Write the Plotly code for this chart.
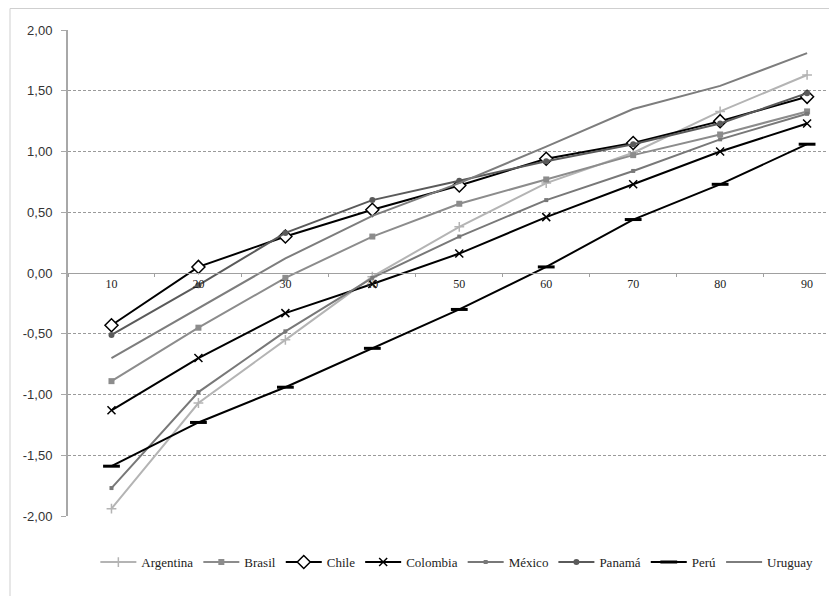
import plotly.graph_objects as go

categories = ["10", "20", "30", "40", "50", "60", "70", "80", "90"]

argentina = [-1.94, -1.07, -0.55, -0.03, 0.38, 0.74, 0.99, 1.33, 1.63]
brasil    = [-0.89, -0.45, -0.04, 0.30, 0.57, 0.77, 0.97, 1.14, 1.33]
chile     = [-0.43, 0.05, 0.30, 0.52, 0.72, 0.94, 1.07, 1.25, 1.45]
colombia  = [-1.13, -0.70, -0.33, -0.09, 0.16, 0.46, 0.73, 1.00, 1.23]
mexico    = [-1.77, -0.98, -0.48, -0.04, 0.30, 0.60, 0.84, 1.10, 1.31]
panama    = [-0.51, -0.10, 0.33, 0.60, 0.76, 0.92, 1.06, 1.23, 1.48]
peru      = [-1.59, -1.23, -0.94, -0.62, -0.30, 0.05, 0.44, 0.73, 1.06]
uruguay   = [-0.70, -0.29, 0.12, 0.47, 0.74, 1.04, 1.35, 1.54, 1.81]

y_ticks = [-2.0, -1.5, -1.0, -0.5, 0.0, 0.5, 1.0, 1.5, 2.0]
y_tick_labels = ["-2,00", "-1,50", "-1,00", "-0,50", "0,00", "0,50", "1,00", "1,50", "2,00"]

series = [
    ("Argentina", argentina, "#b4b4b4", dict(symbol="cross-thin-open", size=7, line=dict(width=1.5, color="#b4b4b4")), 2),
    ("Brasil", brasil, "#8c8c8c", dict(symbol="square", size=6, color="#8c8c8c"), 2),
    ("Chile", chile, "#000000", dict(symbol="diamond", size=10, color="white", line=dict(width=1.5, color="#000000")), 2),
    ("Colombia", colombia, "#000000", dict(symbol="x-thin-open", size=8, line=dict(width=1.5, color="#000000")), 2),
    ("México", mexico, "#787878", dict(symbol="square", size=4, color="#787878"), 2),
    ("Panamá", panama, "#5a5a5a", dict(symbol="circle", size=6, color="#5a5a5a"), 2),
    ("Perú", peru, "#000000", dict(symbol="line-ew-open", size=12, line=dict(width=3, color="#000000")), 2),
    ("Uruguay", uruguay, "#7d7d7d", None, 2),
]

fig = go.Figure()
for name, vals, color, marker, w in series:
    if marker is None:
        fig.add_trace(go.Scatter(x=categories, y=vals, name=name, mode="lines",
                                 line=dict(color=color, width=w)))
    else:
        fig.add_trace(go.Scatter(x=categories, y=vals, name=name, mode="lines+markers",
                                 line=dict(color=color, width=w), marker=marker))

# page is offset by the default 8px body margin; figure coords below account for that
W, H = 829, 588
L, R, T, B = 60, 11, 22, 80
pw = W - L - R
ph = H - T - B

fig.update_layout(
    width=W, height=H,
    margin=dict(l=L, r=R, t=T, b=B),
    paper_bgcolor="white", plot_bgcolor="white",
    showlegend=True,
    legend=dict(orientation="h", x=0.513, xanchor="center", y=-0.064, yanchor="top",
                font=dict(family="Liberation Serif", size=13, color="#222"),
                itemwidth=36, tracegroupgap=0, bgcolor="rgba(0,0,0,0)"),
    xaxis=dict(type="category", range=[-0.5, pw / 86.95 - 0.5],
               anchor="free", position=0.5, showline=True, linecolor="#a0a0a0", linewidth=1,
               ticks="outside", ticklen=3, tickcolor="#a0a0a0", tickson="boundaries",
               ticklabelstandoff=0,
               showgrid=False, zeroline=False,
               tickfont=dict(family="Liberation Serif", size=12, color="#222")),
    yaxis=dict(range=[-2, 2], tickvals=y_ticks, ticktext=y_tick_labels,
               showline=True, linecolor="#a8a8a8", linewidth=2,
               ticks="outside", ticklen=5, tickcolor="#a8a8a8",
               ticklabelstandoff=6,
               showgrid=True, gridcolor="#9a9a9a", griddash="3px,2px", gridwidth=1,
               zeroline=False,
               tickfont=dict(family="Liberation Sans", size=13, color="#333")),
)

# outer chart frame (light gray), top and left edges visible
x_left = (2 - L) / pw
y_top = 1 + (T - 0.5) / ph
fig.add_shape(type="line", xref="paper", yref="paper", x0=x_left, x1=1.2, y0=y_top, y1=y_top,
              line=dict(color="#cfcfcf", width=1))
fig.add_shape(type="line", xref="paper", yref="paper", x0=x_left, x1=x_left, y0=y_top, y1=-0.3,
              line=dict(color="#cfcfcf", width=1))

fig.write_html("out.html")
